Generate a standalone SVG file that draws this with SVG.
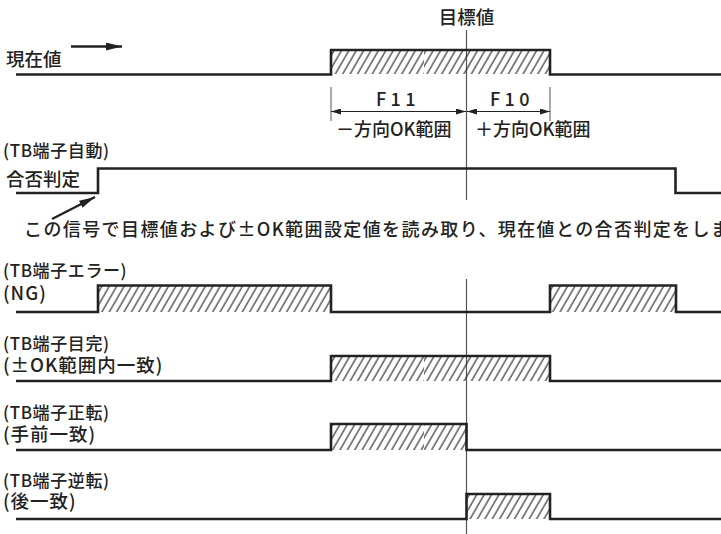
<svg xmlns="http://www.w3.org/2000/svg" width="721" height="534" viewBox="0 0 721 534">
<defs>
<pattern id="hA" patternUnits="userSpaceOnUse" width="6.4" height="10" patternTransform="rotate(30)">
<line x1="1" y1="-1" x2="1" y2="11" stroke="#222" stroke-width="1.1"/>
</pattern>
<pattern id="hB" patternUnits="userSpaceOnUse" width="6.4" height="10" patternTransform="translate(3 0) rotate(30)">
<line x1="1" y1="-1" x2="1" y2="11" stroke="#222" stroke-width="1.1"/>
</pattern>
<marker id="ah" viewBox="0 0 10 6" refX="10" refY="3" markerWidth="10" markerHeight="6" markerUnits="userSpaceOnUse" orient="auto-start-reverse">
<path d="M0,0 L10,3 L0,6 z" fill="#222"/>
</marker>
<marker id="bigah" viewBox="0 0 16 8" refX="16" refY="4" markerWidth="16" markerHeight="8" markerUnits="userSpaceOnUse" orient="auto">
<path d="M0,0 L16,4 L0,8 z" fill="#222"/>
</marker>
</defs>
<style>
.sig{fill:none;stroke:#222;stroke-width:2.6;stroke-linejoin:miter;stroke-linecap:butt}
.ref{fill:none;stroke:#555;stroke-width:1.2}
.tick{fill:none;stroke:#555;stroke-width:1}
.dim{fill:none;stroke:#222;stroke-width:1.2}
.t{font-family:"Noto Sans CJK JP","Noto Sans CJK SC",sans-serif;fill:#222;font-weight:500}
.lg{font-size:18.5px}
.md{font-size:18px}
.sm{font-size:17px;letter-spacing:0.6px}
.pl{font-size:18.5px;letter-spacing:1px}
</style>
<rect width="721" height="534" fill="#fff"/>

<g id="connectors">
<line class="ref" x1="466.5" y1="30" x2="466.5" y2="200"/>
<line class="ref" x1="466.5" y1="279" x2="466.5" y2="534"/>
<line class="tick" x1="331" y1="87" x2="331" y2="121"/>
<line class="tick" x1="550" y1="87" x2="550" y2="121"/>
<line class="dim" x1="331" y1="111.5" x2="466" y2="111.5" marker-start="url(#ah)" marker-end="url(#ah)"/>
<line class="dim" x1="467" y1="111.5" x2="550" y2="111.5" marker-start="url(#ah)" marker-end="url(#ah)"/>
<line stroke="#222" stroke-width="2.4" x1="71" y1="46.5" x2="122" y2="46.5" marker-end="url(#bigah)"/>
<line stroke="#222" stroke-width="2.4" x1="52" y1="219" x2="95" y2="197" marker-end="url(#bigah)"/>
</g>

<g id="title">
<text class="t lg" x="466.5" y="23.5" text-anchor="middle">目標値</text>
</g>

<g id="row-genzai">
<text class="t lg" x="6" y="65.5">現在値</text>
<rect x="331" y="50" width="93" height="24" fill="url(#hA)"/>
<rect x="424" y="50" width="126" height="24" fill="url(#hB)"/>
<path class="sig" d="M16,74.5 H331 V50 H550 V74.5 H721"/>
<text class="t md" x="398" y="106" text-anchor="middle" letter-spacing="4.5">F11</text>
<text class="t md" x="512" y="106" text-anchor="middle" letter-spacing="4.5">F10</text>
<text class="t md" x="336" y="136">－方向OK範囲</text>
<text class="t md" x="475" y="136">＋方向OK範囲</text>
</g>

<g id="row-gouhi">
<text class="t sm" x="3" y="157">(TB端子自動)</text>
<text class="t lg" x="6" y="186">合否判定</text>
<path class="sig" d="M16,193 H98 V168.5 H675.5 V193 H721"/>
</g>

<g id="note">
<text class="t md" x="24" y="236" letter-spacing="1.4">この信号で目標値および±OK範囲設定値を読み取り、現在値との合否判定をしま</text>
</g>

<g id="row-ng">
<text class="t sm" x="3" y="277">(TB端子エラー)</text>
<text class="t pl" x="3" y="300" letter-spacing="3">(NG)</text>
<rect x="98" y="286" width="233" height="26" fill="url(#hA)"/>
<rect x="550" y="286" width="126" height="26" fill="url(#hA)"/>
<path class="sig" d="M16,312 H98 V285.5 H331 V312 H550 V285.5 H676 V312 H721"/>
</g>

<g id="row-mokkan">
<text class="t sm" x="3" y="350">(TB端子目完)</text>
<text class="t pl" x="3" y="372">(±OK範囲内一致)</text>
<rect x="331" y="356" width="93" height="25" fill="url(#hA)"/>
<rect x="424" y="356" width="126" height="25" fill="url(#hB)"/>
<path class="sig" d="M16,381 H331 V356 H550 V381 H721"/>
</g>

<g id="row-seiten">
<text class="t sm" x="3" y="419">(TB端子正転)</text>
<text class="t pl" x="3" y="441">(手前一致)</text>
<rect x="331" y="424" width="93" height="26" fill="url(#hA)"/>
<rect x="424" y="424" width="42" height="26" fill="url(#hB)"/>
<path class="sig" d="M16,450 H331 V424 H466.5 V450 H721"/>
</g>

<g id="row-gyakuten">
<text class="t sm" x="3" y="487">(TB端子逆転)</text>
<text class="t pl" x="3" y="508">(後一致)</text>
<rect x="466" y="494" width="84" height="25" fill="url(#hA)"/>
<path class="sig" d="M16,519 H466.5 V494 H550 V519 H721"/>
</g>
</svg>
